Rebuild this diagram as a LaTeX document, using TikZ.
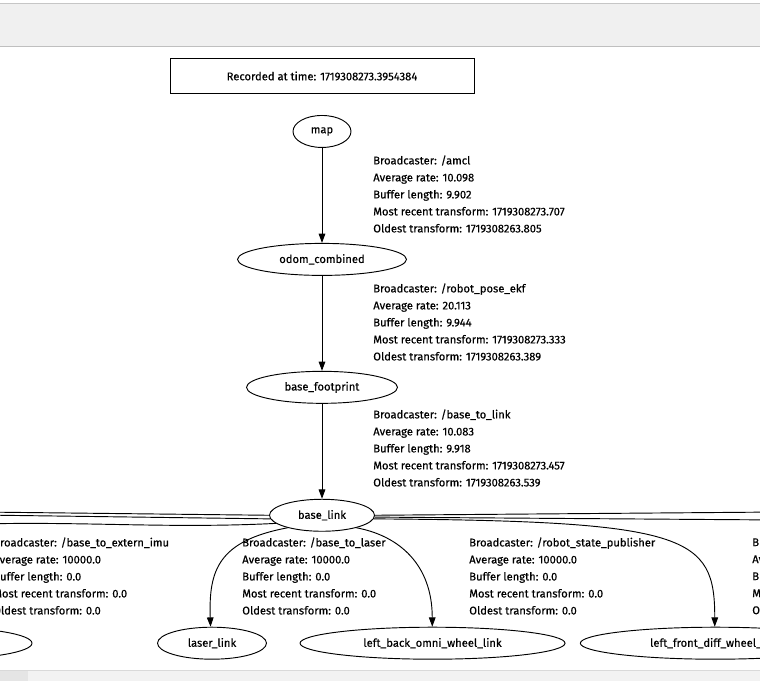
\documentclass[tikz,border=0pt]{standalone}
\usepackage{fontspec}
\setmainfont{Fira Sans}[FakeBold=0.35]
\usetikzlibrary{arrows.meta, positioning, shapes.geometric}

\newcommand{\tffont}{\fontsize{8.4pt}{12.75pt}\selectfont}

\begin{document}
\begin{tikzpicture}[
node distance=71.25pt,
frame/.style={ellipse, draw, line width=0.7pt, inner sep=0pt, minimum height=24pt, font=\tffont},
info/.style={anchor=west, align=left, inner sep=0pt, font=\tffont},
line/.style={line width=0.7pt, -{Triangle[length=7pt, width=5pt]}},
wire/.style={line width=0.7pt}
]

\useasboundingbox (0,0) rectangle (570pt,-510.75pt);
\clip (0,0) rectangle (570pt,-510.75pt);

% window chrome
\fill[gray!12] (0,-3pt) rectangle (570pt,-35.25pt);
\draw[gray!45, line width=0.75pt] (0,-3pt) -- (570pt,-3pt);
\draw[gray!50, line width=0.75pt] (0,-35.25pt) -- (570pt,-35.25pt);
\fill[gray!10] (0,-502.5pt) rectangle (570pt,-510.75pt);
\fill[gray!20] (0,-502.5pt) rectangle (21pt,-510.75pt);
\draw[gray!30, line width=0.75pt] (0,-502.5pt) -- (570pt,-502.5pt);

% tf chain
\node[frame, minimum width=43.5pt] (map) at (241.5pt,-98.6pt) {map};
\node[draw, rectangle, line width=0.7pt, minimum width=228pt, minimum height=26.25pt, font=\tffont, above=15.75pt of map] (stamp) {Recorded at time: 1719308273.3954384};
\node[frame, minimum width=126.75pt, below=of map] (odom) {odom\_combined};
\node[frame, minimum width=113.25pt, below=of odom] (footprint) {base\_footprint};
\node[frame, minimum width=78.75pt, below=of footprint] (base_link) {base\_link};

\node[frame, minimum width=142.5pt, below=of base_link, xshift=-288.75pt] (extern_imu) {};
\node[frame, minimum width=81.75pt, below=of base_link, xshift=-82.5pt] (laser_link) {laser\_link};
\node[frame, minimum width=198.75pt, below=of base_link, xshift=82.9pt] (back_omni) {left\_back\_omni\_wheel\_link};
\node[frame, minimum width=202.5pt, below=of base_link, xshift=295pt] (front_diff) {left\_front\_diff\_wheel\_link};

% broadcaster info
\node[info] (amcl_info) at (279.75pt,-145.5pt) {Broadcaster: /amcl\\ Average rate: 10.098\\ Buffer length: 9.902\\ Most recent transform: 1719308273.707\\ Oldest transform: 1719308263.805};
\node[info] (ekf_info) at (279.75pt,-241.5pt) {Broadcaster: /robot\_pose\_ekf\\ Average rate: 20.113\\ Buffer length: 9.944\\ Most recent transform: 1719308273.333\\ Oldest transform: 1719308263.389};
\node[info] (link_info) at (279.75pt,-336pt) {Broadcaster: /base\_to\_link\\ Average rate: 10.083\\ Buffer length: 9.918\\ Most recent transform: 1719308273.457\\ Oldest transform: 1719308263.539};
\node[info] (imu_info) at (-5.25pt,-432pt) {Broadcaster: /base\_to\_extern\_imu\\ Average rate: 10000.0\\ Buffer length: 0.0\\ Most recent transform: 0.0\\ Oldest transform: 0.0};
\node[info] (laser_info) at (181.5pt,-432pt) {Broadcaster: /base\_to\_laser\\ Average rate: 10000.0\\ Buffer length: 0.0\\ Most recent transform: 0.0\\ Oldest transform: 0.0};
\node[info] (rsp_info) at (351.75pt,-432pt) {Broadcaster: /robot\_state\_publisher\\ Average rate: 10000.0\\ Buffer length: 0.0\\ Most recent transform: 0.0\\ Oldest transform: 0.0};
\node[info] (next_info) at (564pt,-432pt) {Broadcaster:\\ Average rate:\\ Buffer length:\\ Most recent transform:\\ Oldest transform:};

% edges leaving the view
\coordinate (west_a) at (-15pt,-384pt);
\coordinate (west_b) at (-15pt,-386.25pt);
\coordinate (west_c) at (-15pt,-393pt);
\coordinate (east_a) at (585pt,-384pt);
\coordinate (east_b) at (585pt,-390pt);

\draw[line] (map) -- (odom);
\draw[line] (odom) -- (footprint);
\draw[line] (footprint) -- (base_link);
\draw[line] (base_link.200) .. controls +(-51.75pt,-9.75pt) and +(-1.5pt,42.75pt) .. (laser_link.95);
\draw[line] (base_link.-20) .. controls +(32.25pt,-6pt) and +(0pt,46.5pt) .. (back_omni.91);
\draw[line] (base_link.-4) .. controls +(236.25pt,-1.5pt) and +(0pt,68.25pt) .. (front_diff.92);
\draw[wire] (base_link.180) -- (west_a);
\draw[wire] (base_link.184) -- (west_b);
\draw[wire] (base_link.190) .. controls +(-80pt,-4pt) and +(80pt,2pt) .. (west_c);
\draw[wire] (base_link.0) -- (east_a);
\draw[wire] (base_link.-2) -- (east_b);

\end{tikzpicture}
\end{document}
